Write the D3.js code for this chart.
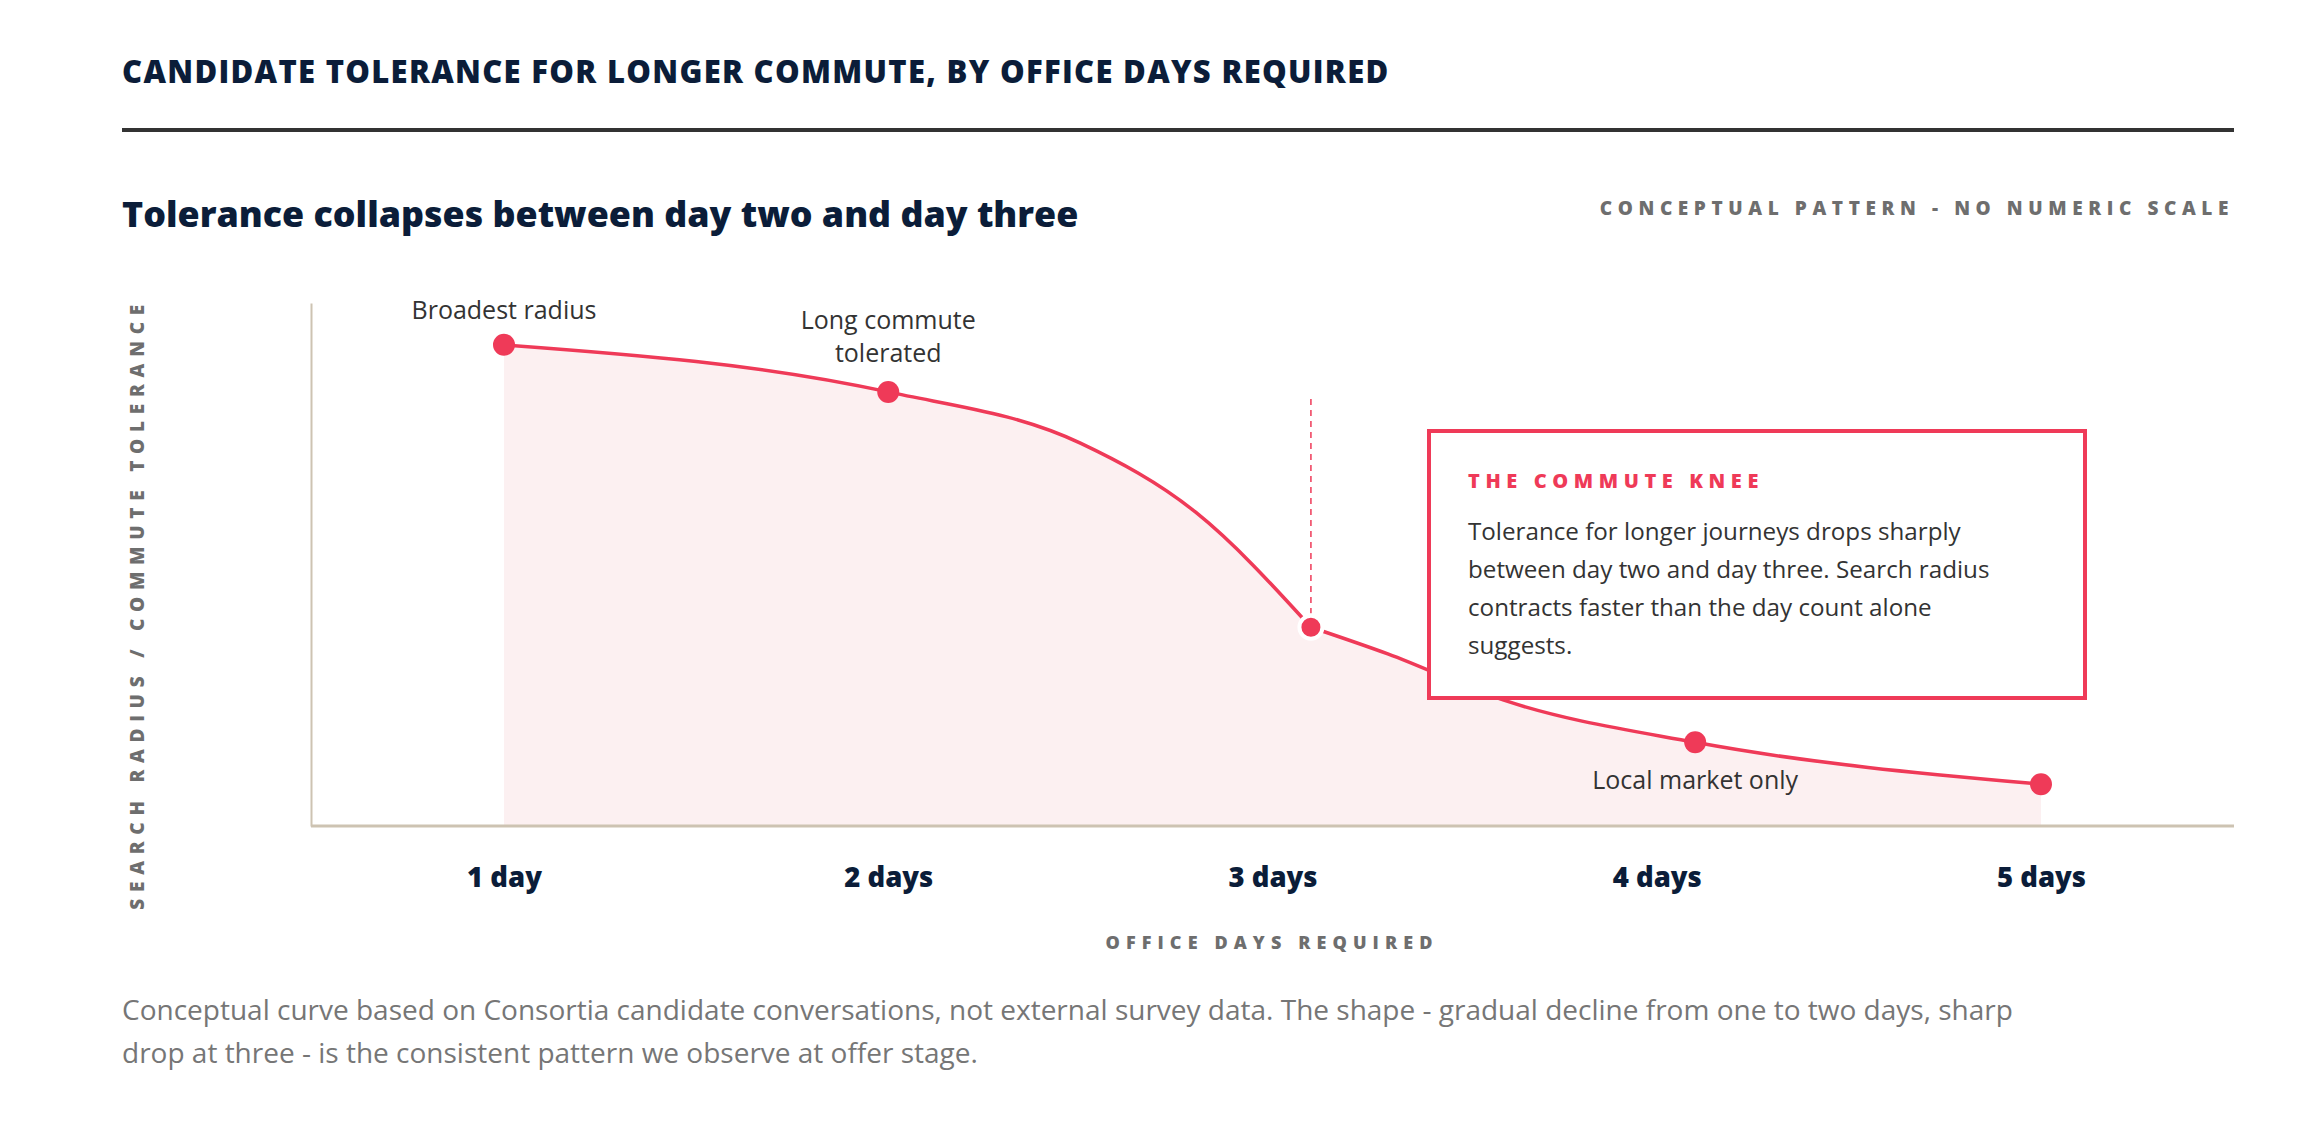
<!DOCTYPE html>
<html>
<head>
<meta charset="utf-8">
<script src="https://cdn.jsdelivr.net/npm/d3@7"></script>
<style>
  body { margin: 0; background: #fff; }
  svg text { font-family: "Open Sans", sans-serif; }
</style>
</head>
<body>
<script>
// conceptual curve, values (0-100 tolerance index)
const tickDays = [1, 2, 3, 4, 5];
const tickLabels = ["1 day", "2 days", "3 days", "4 days", "5 days"];
const pointDays = [1, 2, 3.1, 4.1, 5];
const pointValues = [92, 83, 38, 16, 8];
const pointLabels = [["Broadest radius"], ["Long commute", "tolerated"], [], ["Local market only"], []];
const curveDays = [1, 2, 2.5, 2.8, 3.1, 3.3, 3.6, 4.1, 5];
const curveValues = [92, 83, 73.2, 60, 38, 32.9, 24.1, 16, 8];
const kneeDay = 3.1;
const noteLines = [
    "Tolerance for longer journeys drops sharply",
    "between day two and day three. Search radius",
    "contracts faster than the day count alone",
    "suggests."
];
const footLines = [
    "Conceptual curve based on Consortia candidate conversations, not external survey data. The shape - gradual decline from one to two days, sharp",
    "drop at three - is the consistent pattern we observe at offer stage."
];

function renderCommuteChart() {
    const wSvg = 2298;
    const hSvg = 1140;
    const left = 122;
    const right = 2234;
    const plotLeft = 311;
    const plotTop = 303;
    const plotBottom = 826;
    const red = "#ef3a58";
    const navy = "#0b1d39";
    const grey = "#6e6e6e";

    let svg = d3.select("body")
        .append("svg")
        .attr("width", wSvg)
        .attr("height", hSvg)
        .style("background-color", "white");

    // header
    svg.append("text")
        .attr("x", left)
        .attr("y", 83)
        .attr("fill", navy)
        .attr("font-size", 31)
        .attr("font-weight", 800)
        .attr("letter-spacing", 1.3)
        .text("CANDIDATE TOLERANCE FOR LONGER COMMUTE, BY OFFICE DAYS REQUIRED");

    svg.append("line")
        .attr("x1", left)
        .attr("x2", right)
        .attr("y1", 130)
        .attr("y2", 130)
        .attr("stroke", "#333")
        .attr("stroke-width", 4);

    svg.append("text")
        .attr("x", left)
        .attr("y", 227)
        .attr("fill", navy)
        .attr("font-size", 35.8)
        .attr("font-weight", 800)
        .text("Tolerance collapses between day two and day three");

    svg.append("text")
        .attr("x", right)
        .attr("y", 215)
        .attr("text-anchor", "end")
        .attr("fill", grey)
        .attr("font-size", 19)
        .attr("font-weight", 800)
        .attr("letter-spacing", 5.6)
        .text("CONCEPTUAL PATTERN - NO NUMERIC SCALE");

    let xScale = d3.scaleLinear([1, 5], [504, 2041]);
    let yScale = d3.scaleLinear([0, 100], [plotBottom, plotTop]);

    // curve split at the knee so the bend stays sharp
    let knots = curveDays.map((d, i) => [d, curveValues[i]]);
    let upper = knots.filter(k => k[0] <= kneeDay);
    let lower = knots.filter(k => k[0] >= kneeDay);

    const dMaker = d3.line()
        .x(d => xScale(d[0]))
        .y(d => yScale(d[1]))
        .curve(d3.curveMonotoneX);

    let upperPath = dMaker(upper);
    let lowerPath = dMaker(lower);
    let areaPath = upperPath + lowerPath.replace(/^M/, "L")
        + `L${xScale(curveDays[curveDays.length - 1])},${yScale(0)}`
        + `L${xScale(curveDays[0])},${yScale(0)}Z`;

    svg.append("path")
        .attr("d", areaPath)
        .attr("fill", "#fcf0f1");

    // axes
    let yAxis = d3.axisLeft(yScale).tickValues([]).tickSizeOuter(0);
    svg.append("g")
        .attr("transform", `translate(${plotLeft}, 0)`)
        .call(yAxis)
        .select(".domain")
        .attr("stroke", "#cdc3b2")
        .attr("stroke-width", 2);

    svg.append("line")
        .attr("x1", plotLeft)
        .attr("x2", right)
        .attr("y1", plotBottom)
        .attr("y2", plotBottom)
        .attr("stroke", "#cdc3b2")
        .attr("stroke-width", 3);

    let xAxis = d3.axisBottom(xScale)
        .tickValues(tickDays)
        .tickFormat((d, i) => tickLabels[i])
        .tickSize(0);
    let xg = svg.append("g")
        .attr("transform", `translate(0, ${plotBottom})`)
        .call(xAxis);
    xg.select(".domain").remove();
    xg.selectAll("text")
        .attr("y", 61)
        .attr("dy", 0)
        .attr("fill", navy)
        .attr("font-size", 27.5)
        .attr("font-weight", 800)
        .attr("font-family", "Open Sans, sans-serif");

    svg.append("text")
        .attr("x", 1272)
        .attr("y", 949)
        .attr("text-anchor", "middle")
        .attr("fill", grey)
        .attr("font-size", 18)
        .attr("font-weight", 800)
        .attr("letter-spacing", 6.1)
        .text("OFFICE DAYS REQUIRED");

    svg.append("text")
        .attr("transform", `translate(144, ${plotTop - 5}) rotate(-90)`)
        .attr("text-anchor", "end")
        .attr("fill", grey)
        .attr("font-size", 19)
        .attr("font-weight", 800)
        .attr("letter-spacing", 6.75)
        .text("SEARCH RADIUS / COMMUTE TOLERANCE");

    // knee guide
    svg.append("line")
        .attr("x1", xScale(kneeDay))
        .attr("x2", xScale(kneeDay))
        .attr("y1", 399)
        .attr("y2", yScale(pointValues[2]) - 14)
        .attr("stroke", red)
        .attr("stroke-width", 1.5)
        .attr("stroke-dasharray", "6 5");

    svg.append("path")
        .attr("d", upperPath)
        .attr("fill", "none")
        .attr("stroke", red)
        .attr("stroke-width", 3.5);
    svg.append("path")
        .attr("d", lowerPath)
        .attr("fill", "none")
        .attr("stroke", red)
        .attr("stroke-width", 3.5);

    let points = pointDays.map((d, i) => ({ day: d, value: pointValues[i], label: pointLabels[i] }));

    svg.append("g")
        .selectAll("circle")
        .data(points)
        .enter()
        .append("circle")
        .attr("cx", d => xScale(d.day))
        .attr("cy", d => yScale(d.value))
        .attr("r", d => d.day === kneeDay ? 11.5 : 11)
        .attr("fill", red)
        .attr("stroke", d => d.day === kneeDay ? "white" : "none")
        .attr("stroke-width", 4);

    points.forEach((p, i) => {
        if (p.label.length === 0) return;
        let below = i === 3;
        let t = svg.append("text")
            .attr("text-anchor", "middle")
            .attr("fill", "#333")
            .attr("font-size", 25);
        p.label.forEach((line, j) => {
            let yy = below
                ? yScale(p.value) + 47
                : yScale(p.value) - 26 - (p.label.length - 1 - j) * 33 - (p.label.length > 1 ? 4 : 0);
            t.append("tspan")
                .attr("x", xScale(p.day))
                .attr("y", yy)
                .text(line);
        });
    });

    // annotation box
    let box = svg.append("g").attr("transform", "translate(1429, 431)");
    box.append("rect")
        .attr("x", 0)
        .attr("y", 0)
        .attr("width", 656)
        .attr("height", 267)
        .attr("fill", "white")
        .attr("stroke", red)
        .attr("stroke-width", 4);
    box.append("text")
        .attr("x", 39)
        .attr("y", 57)
        .attr("fill", red)
        .attr("font-size", 20)
        .attr("font-weight", 800)
        .attr("letter-spacing", 5.6)
        .text("THE COMMUTE KNEE");
    box.append("text")
        .attr("fill", "#333")
        .attr("font-size", 24.2)
        .selectAll("tspan")
        .data(noteLines)
        .enter()
        .append("tspan")
        .attr("x", 39)
        .attr("y", (d, i) => 109 + i * 38)
        .text(d => d);

    // footnote
    svg.append("text")
        .attr("fill", "#767676")
        .attr("font-size", 28)
        .selectAll("tspan")
        .data(footLines)
        .enter()
        .append("tspan")
        .attr("x", left)
        .attr("y", (d, i) => 1020 + i * 43)
        .text(d => d);
}

renderCommuteChart();
</script>
</body>
</html>
